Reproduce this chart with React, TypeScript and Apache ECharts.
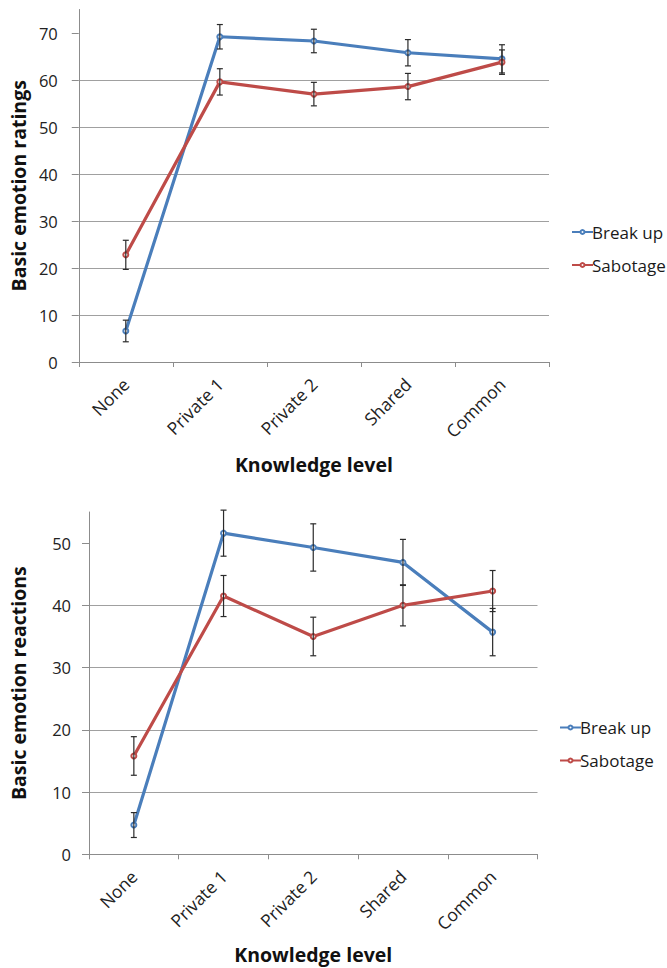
import React, { useEffect, useRef } from "react";
import * as echarts from "echarts";

const categories = ["None", "Private 1", "Private 2", "Shared", "Common"];

// Top chart: Basic emotion ratings
const topBreakUp = [6.6, 69.2, 68.3, 65.8, 64.5];
const topBreakUpErr = [2.3, 2.6, 2.5, 2.8, 3.0];
const topSabotage = [22.8, 59.6, 57.0, 58.6, 63.8];
const topSabotageErr = [3.1, 2.8, 2.5, 2.8, 2.6];
const topTicks = [0, 10, 20, 30, 40, 50, 60, 70];

// Bottom chart: Basic emotion reactions
const botBreakUp = [4.7, 51.6, 49.3, 46.9, 35.7];
const botBreakUpErr = [2.0, 3.7, 3.8, 3.7, 3.8];
const botSabotage = [15.8, 41.5, 35.0, 40.0, 42.3];
const botSabotageErr = [3.1, 3.3, 3.1, 3.3, 3.3];
const botTicks = [0, 10, 20, 30, 40, 50];

const BLUE = "#4A7EBB";
const RED = "#BE4B48";
const GRID = "#A0A0A0";
const AXIS = "#8C8C8C";
const FONT = "Open Sans";

function errData(mean: number[], err: number[]) {
  return mean.map((m, i) => [i, m - err[i], m + err[i]]);
}

function errSeries(data: number[][], gi: number) {
  return {
    type: "custom",
    xAxisIndex: gi,
    yAxisIndex: gi,
    silent: true,
    z: 5,
    data,
    renderItem: (params: any, api: any) => {
      const x = api.value(0);
      const lo = api.coord([x, api.value(1)]);
      const hi = api.coord([x, api.value(2)]);
      const w = 3;
      const st = { stroke: "#2b2b2b", lineWidth: 1.2 };
      return {
        type: "group",
        children: [
          { type: "line", shape: { x1: hi[0], y1: hi[1], x2: lo[0], y2: lo[1] }, style: st },
          { type: "line", shape: { x1: hi[0] - w, y1: hi[1], x2: hi[0] + w, y2: hi[1] }, style: st },
          { type: "line", shape: { x1: lo[0] - w, y1: lo[1], x2: lo[0] + w, y2: lo[1] }, style: st },
        ],
      };
    },
  };
}

function lineSeries(name: string, data: number[], color: string, gi: number) {
  return {
    type: "line",
    name,
    xAxisIndex: gi,
    yAxisIndex: gi,
    data,
    symbol: "emptyCircle",
    symbolSize: 5,
    lineStyle: { color, width: 3.2 },
    itemStyle: { color, borderWidth: 1 },
    z: 3,
  };
}

function xAxis(gi: number, gap: number) {
  return {
    type: "category",
    gridIndex: gi,
    data: categories,
    name: "Knowledge level",
    nameLocation: "middle",
    nameGap: gap,
    nameTextStyle: { fontFamily: FONT, fontSize: 19.5, fontWeight: "bold", color: "#111" },
    axisLine: { lineStyle: { color: AXIS, width: 1 } },
    axisTick: { show: true, length: 5, lineStyle: { color: AXIS } },
    axisLabel: {
      interval: 0,
      rotate: 45,
      margin: 19,
      fontFamily: FONT,
      fontSize: 17.5,
      color: "#222",
    },
    splitLine: { show: false },
  };
}

function yAxis(gi: number, max: number, ticks: number[], name: string, gap: number, lm: number) {
  return {
    type: "value",
    gridIndex: gi,
    min: 0,
    max,
    interval: 10,
    name,
    nameLocation: "middle",
    nameGap: gap,
    nameTextStyle: { fontFamily: FONT, fontSize: 19.5, fontWeight: "bold", color: "#111" },
    axisLine: { show: true, lineStyle: { color: AXIS, width: 1 } },
    axisTick: { show: true, length: 7, customValues: ticks, lineStyle: { color: AXIS } },
    axisLabel: {
      customValues: ticks,
      margin: lm,
      fontFamily: FONT,
      fontSize: 16.5,
      color: "#222",
    },
    splitLine: { show: true, showMaxLine: false, showMinLine: false, lineStyle: { color: GRID, width: 1 } },
  };
}

function legend(left: number, top: number) {
  return {
    orient: "vertical",
    left,
    top,
    itemWidth: 21,
    itemHeight: 5,
    itemGap: 10,
    data: ["Break up", "Sabotage"],
    textStyle: {
      fontFamily: FONT,
      fontSize: 17,
      color: "#1a1a1a",
      lineHeight: 23,
      padding: [0, 0, 0, -6],
    },
  };
}

export default function App() {
  const ref = useRef<HTMLDivElement>(null);
  useEffect(() => {
    if (!ref.current) return;
    const chart = echarts.init(ref.current, undefined, { renderer: "svg" });
    chart.setOption({
      animation: false,
      backgroundColor: "#ffffff",
      grid: [
        { left: 77, top: 9.5, width: 472, height: 352.5 },
        { left: 89, top: 512, width: 448.5, height: 342.3 },
      ],
      legend: [legend(566, 215.5), legend(554, 711)],
      xAxis: [xAxis(0, 92), xAxis(1, 90)],
      yAxis: [
        yAxis(0, 75, topTicks, "Basic emotion ratings", 49, 21),
        yAxis(1, 55, botTicks, "Basic emotion reactions", 61, 18),
      ],
      series: [
        lineSeries("Break up", topBreakUp, BLUE, 0),
        lineSeries("Sabotage", topSabotage, RED, 0),
        errSeries(errData(topBreakUp, topBreakUpErr), 0),
        errSeries(errData(topSabotage, topSabotageErr), 0),
        lineSeries("Break up", botBreakUp, BLUE, 1),
        lineSeries("Sabotage", botSabotage, RED, 1),
        errSeries(errData(botBreakUp, botBreakUpErr), 1),
        errSeries(errData(botSabotage, botSabotageErr), 1),
      ],
    });
    return () => chart.dispose();
  }, []);
  return (
    <div
      ref={ref}
      style={{ position: "absolute", left: 0, top: 0, width: 667, height: 968 }}
    />
  );
}
